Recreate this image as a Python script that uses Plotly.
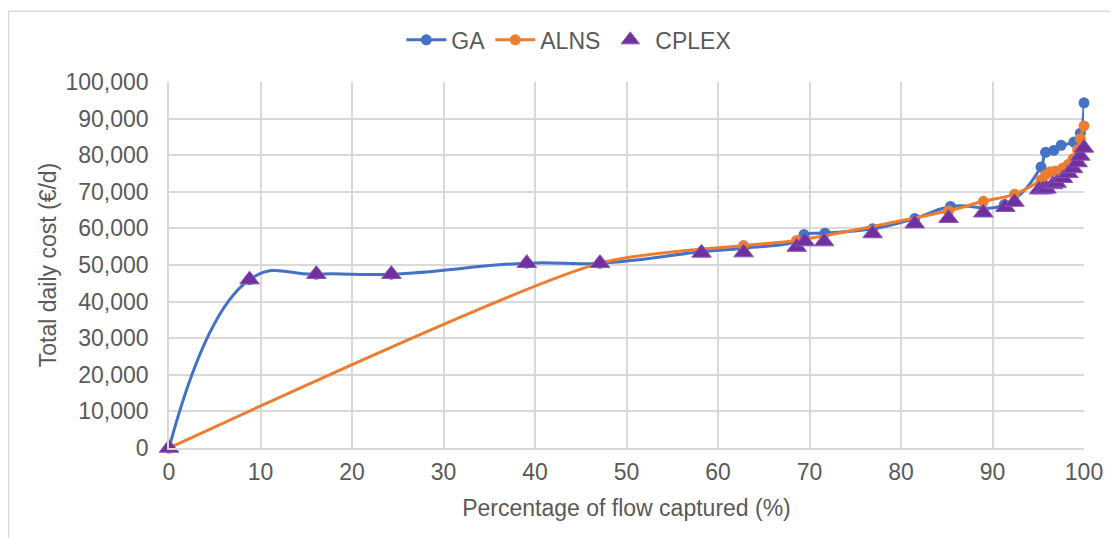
import plotly.graph_objects as go

# GA results
ga_flow = [0, 8.8, 16.1, 24.3, 39.1, 47.1, 58.2, 62.8, 68.6, 69.4, 71.7, 76.9,
           81.5, 85.4, 91.3, 95.3, 95.8, 96.7, 97.5, 98.9, 99.6, 100]
ga_cost = [0, 46000, 47500, 47500, 50500, 50500, 53600, 54600, 56500, 58300, 58700, 59900,
           62700, 66000, 66500, 76800, 80800, 81300, 82700, 83600, 86000, 94300]

# ALNS results
alns_flow = [0, 47.1, 62.8, 68.6, 85.2, 89.0, 92.4, 95.3, 95.8, 96.3, 96.9, 97.7,
             98.3, 98.8, 99.3, 99.6, 100]
alns_cost = [0, 50500, 55300, 56700, 64800, 67400, 69300, 73200, 74600, 75500, 75700, 76500,
             77500, 79000, 81500, 84500, 88000]

# CPLEX results
cplex_flow = [0, 8.8, 16.1, 24.3, 39.1, 47.1, 58.2, 62.8, 68.6, 69.5, 71.6, 76.9,
              81.5, 85.2, 89.0, 91.4, 92.4, 95.1, 95.5, 95.9, 96.6, 97.0, 97.7,
              98.3, 98.8, 99.3, 99.6, 100]
cplex_cost = [0, 46000, 47500, 47500, 50500, 50500, 53300, 53400, 54900, 56400, 56400, 58600,
              61300, 62800, 64300, 65800, 67200, 70600, 70600, 70800, 72000, 72400, 73700,
              75100, 76400, 78000, 79800, 82000]

x_ticks = list(range(0, 101, 10))
y_ticks = list(range(0, 100001, 10000))

TEXT = '#595959'
GRID = '#d9d9d9'
FONT = 'Liberation Sans, Arial, sans-serif'
FS = 23

fig = go.Figure()
fig.add_trace(go.Scatter(
    x=ga_flow, y=ga_cost, name='GA', mode='lines+markers', cliponaxis=False,
    line=dict(color='#4472C4', width=3, shape='spline', smoothing=1.3),
    marker=dict(color='#4472C4', size=11),
))
fig.add_trace(go.Scatter(
    x=alns_flow, y=alns_cost, name='ALNS', mode='lines+markers', cliponaxis=False,
    line=dict(color='#ED7D31', width=3, shape='spline', smoothing=0.7),
    marker=dict(color='#ED7D31', size=11),
))
fig.add_trace(go.Scatter(
    x=cplex_flow, y=cplex_cost, name='CPLEX', mode='markers', cliponaxis=False,
    marker=dict(color='#7030A0', size=17, symbol='triangle-up',
                line=dict(color='#8a55b5', width=1)),
))

# outer chart frame
fig.add_shape(type='line', xref='paper', yref='paper', x0=-0.1754, x1=1.04, y0=1.1935, y1=1.1935,
              line=dict(color=GRID, width=1.5))
fig.add_shape(type='line', xref='paper', yref='paper', x0=-0.1754, x1=-0.1754, y0=-0.3, y1=1.1935,
              line=dict(color=GRID, width=1.5))

# the page adds an 8px body margin, so the figure is a bit smaller than the window
fig.update_layout(
    width=1110, height=530,
    margin=dict(l=161, r=34, t=73, b=90),
    paper_bgcolor='white',
    plot_bgcolor='white',
    font=dict(family=FONT, size=FS, color=TEXT),
    legend=dict(orientation='h', x=0.437, xanchor='center', y=1.112, yanchor='middle',
                font=dict(size=FS, color=TEXT), itemwidth=40),
    showlegend=True,
)
fig.update_xaxes(
    range=[0, 100], tickvals=x_ticks, showgrid=True, gridcolor=GRID, gridwidth=1.5,
    zeroline=False, showline=True, linecolor=GRID, linewidth=1.5, ticklabelstandoff=3,
    title=dict(text='Percentage of flow captured (%)', font=dict(size=FS, color=TEXT), standoff=16),
)
fig.update_yaxes(
    range=[0, 100000], tickvals=y_ticks, tickformat=',d', showgrid=True, gridcolor=GRID,
    gridwidth=1.5, zeroline=False, showline=True, linecolor=GRID, linewidth=1.5,
    ticklabelstandoff=14,
    title=dict(text='Total daily cost (€/d)', font=dict(size=FS, color=TEXT), standoff=2),
)

fig.write_html("out.html")
